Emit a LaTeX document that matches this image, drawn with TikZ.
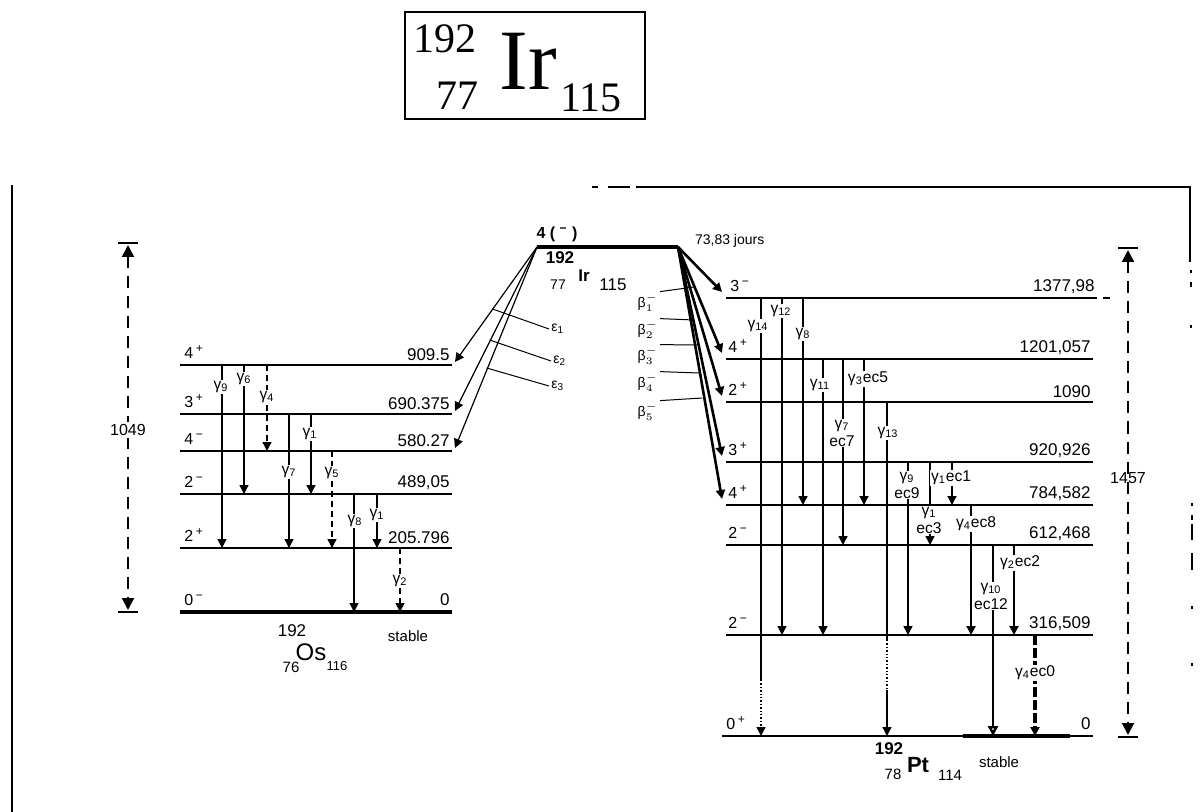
\documentclass[tikz,border=0pt]{standalone}
\usepackage{fontspec}
\setmainfont{Liberation Sans}
\newfontfamily\ttlfont{Liberation Serif}
\usetikzlibrary{arrows.meta, positioning, calc}

\newcommand{\gm}[1]{γ\textsubscript{#1}}
\newcommand{\sg}[1]{\textsuperscript{#1}}

\begin{document}
\begin{tikzpicture}[x=0.5pt, y=-0.5pt, >={Triangle[width=4.5pt,length=4.5pt]}]
  \tikzstyle{level} = [line width=0.9pt]
  \tikzstyle{heavy} = [line width=2pt]
  \tikzstyle{gam} = [->, line width=0.7pt]
  \tikzstyle{ecarrow} = [->, line width=0.6pt]
  \tikzstyle{betarrow} = [->, line width=1.3pt]
  \tikzstyle{lead} = [line width=0.5pt]
  \tikzstyle{energy} = [inner sep=1pt, font=\fontsize{8.5}{9}\selectfont]
  \tikzstyle{spin} = [inner sep=1pt, font=\fontsize{8}{9}\selectfont]
  \tikzstyle{glabel} = [fill=white, inner sep=0.4pt, font=\fontsize{7.8}{9}\selectfont, align=center]
  \tikzstyle{dimline} = [line width=1pt, dash pattern=on 6pt off 4pt]
  \tikzstyle{bar} = [line width=1.3pt]

  \useasboundingbox (0,0) rectangle (1204,812);

  % title box
  \node[draw, line width=0.8pt, minimum width=120pt, minimum height=53.5pt] (ttlbox) at (525,65.5) {};
  \node[anchor=base, inner sep=0pt, font=\ttlfont\fontsize{21}{21}\selectfont] (ttlA) at (445,53) {192};
  \node[anchor=base, inner sep=0pt, font=\ttlfont\fontsize{21}{21}\selectfont] (ttlZ) at (457,110) {77};
  \node[anchor=base, inner sep=0pt, font=\ttlfont\fontsize{43}{43}\selectfont] (ttlIr) at (528,90) {Ir};
  \node[anchor=base, inner sep=0pt, font=\ttlfont\fontsize{21}{21}\selectfont] (ttlN) at (591,112) {115};

  % frame
  \draw[line width=1pt] (12,185) -- (12,812);
  \draw[line width=1pt] (592,187) -- (598,187) (608,187) -- (630,187);
  \draw[line width=1pt] (636,187) -- (1190,187) -- (1190,262);
  \draw[line width=1pt] (1191,270) -- (1191,273) (1191,282) -- (1191,287) (1191,325) -- (1191,328)
    (1192,503) -- (1192,506) (1192,515) -- (1192,520) (1192,524) -- (1192,540)
    (1192,553) -- (1192,570) (1192,606) -- (1192,609) (1192,663) -- (1192,666);

  % parent 192Ir
  \coordinate (irw) at (537,247);
  \coordinate (ire) at (678,247);
  \draw[line width=2.2pt] (irw) -- (ire);
  \node[font=\fontsize{8}{9}\selectfont\bfseries] (irspin) at (557,234) {4 ( \sg{−} )};
  \node[font=\fontsize{7}{8}\selectfont, anchor=west] (irhalf) at (688,241) {73,83 jours};
  \node[font=\fontsize{8.5}{9}\selectfont\bfseries] (irA) at (560,258) {192};
  \node[font=\fontsize{7}{8}\selectfont] (irZ) at (558,285) {77};
  \node[font=\fontsize{8.5}{9}\selectfont\bfseries] (irEl) at (584,276) {Ir};
  \node[font=\fontsize{8.5}{9}\selectfont] (irN) at (613,285) {115};

  % 192Os levels
  \coordinate (os909w) at (180,365);  \coordinate (os909e) at (452,365);
  \coordinate (os690w) at (180,414);  \coordinate (os690e) at (452,414);
  \coordinate (os580w) at (180,451);  \coordinate (os580e) at (452,451);
  \coordinate (os489w) at (180,494);  \coordinate (os489e) at (452,494);
  \coordinate (os206w) at (180,548);  \coordinate (os206e) at (452,548);
  \coordinate (os0w) at (180,612);    \coordinate (os0e) at (452,612);
  \draw[level] (os909w) -- (os909e);
  \draw[level] (os690w) -- (os690e);
  \draw[level] (os580w) -- (os580e);
  \draw[level] (os489w) -- (os489e);
  \draw[level] (os206w) -- (os206e);
  \draw[heavy] (os0w) -- (os0e);
  \node[energy, above left=1pt and 0pt of os909e] (os909v) {909.5};
  \node[energy, above left=1pt and 0pt of os690e] (os690v) {690.375};
  \node[energy, above left=1pt and 0pt of os580e] (os580v) {580.27};
  \node[energy, above left=1pt and 0pt of os489e] (os489v) {489,05};
  \node[energy, above left=1pt and 0pt of os206e] (os206v) {205.796};
  \node[energy, above left=2pt and 0pt of os0e] (os0v) {0};
  \node[spin, above right=2pt and 1pt of os909w] (os909s) {4\,\sg{+}};
  \node[spin, above right=2pt and 1pt of os690w] (os690s) {3\,\sg{+}};
  \node[spin, above right=2pt and 1pt of os580w] (os580s) {4\,\sg{−}};
  \node[spin, above right=2pt and 1pt of os489w] (os489s) {2\,\sg{−}};
  \node[spin, above right=2pt and 1pt of os206w] (os206s) {2\,\sg{+}};
  \node[spin, above right=2pt and 1pt of os0w] (os0s) {0\,\sg{−}};

  % 192Os gammas
  \draw[gam] (222,0 |- os909w) -- (222,0 |- os206w);
  \draw[gam] (244,0 |- os909w) -- (244,0 |- os489w);
  \draw[gam, densely dashed] (267,0 |- os909w) -- (267,0 |- os580w);
  \draw[gam] (289,0 |- os690w) -- (289,0 |- os206w);
  \draw[gam] (311,0 |- os690w) -- (311,0 |- os489w);
  \draw[gam, densely dashed] (332,0 |- os580w) -- (332,0 |- os206w);
  \draw[gam] (354,0 |- os489w) -- (354,0 |- os0w);
  \draw[gam] (377,0 |- os489w) -- (377,0 |- os206w);
  \draw[gam, densely dashed] (400,0 |- os206w) -- (400,0 |- os0w);
  \node[glabel] (osg9) at (221,387) {\gm{9}};
  \node[glabel] (osg6) at (244,379) {\gm{6}};
  \node[glabel] (osg4) at (267,397) {\gm{4}};
  \node[glabel] (osg1a) at (310,434) {\gm{1}};
  \node[glabel] (osg7) at (289,472) {\gm{7}};
  \node[glabel] (osg5) at (332,473) {\gm{5}};
  \node[glabel] (osg8) at (355,521) {\gm{8}};
  \node[glabel] (osg1b) at (377,515) {\gm{1}};
  \node[glabel] (osg2) at (400,581) {\gm{2}};

  % 192Os name
  \node[font=\fontsize{8.5}{9}\selectfont] (osA) at (292,631) {192};
  \node[font=\fontsize{7.5}{8}\selectfont] (osZ) at (291,667) {76};
  \node[font=\fontsize{12}{12}\selectfont] (osEl) at (311,652) {Os};
  \node[font=\fontsize{6.5}{7}\selectfont] (osN) at (337,666) {116};
  \node[font=\fontsize{7.5}{8}\selectfont] (osst) at (408,636) {stable};

  % Q (EC) span
  \coordinate (qlt) at (128,245);
  \coordinate (qlb) at (128,610);
  \draw[dimline, {Triangle[width=6pt,length=6pt]}-{Triangle[width=6pt,length=6pt]}] (qlt) -- (qlb);
  \draw[bar] ($(qlt)+(-10,-2)$) -- ($(qlt)+(10,-2)$);
  \draw[bar] ($(qlb)+(-10,2)$) -- ($(qlb)+(10,2)$);
  \node[fill=white, inner sep=1pt, font=\fontsize{8}{9}\selectfont] (qlval) at (128,430) {1049};

  % EC branches
  \draw[ecarrow] (irw) -- ($(os909e)+(3,-3)$);
  \draw[ecarrow] (irw) -- ($(os690e)+(3,-3)$);
  \draw[ecarrow] (irw) -- ($(os580e)+(3,-3)$);
  \node[anchor=west, inner sep=1pt, font=\fontsize{7}{8}\selectfont] (eps1) at (549,329) {ε\textsubscript{1}};
  \node[anchor=west, inner sep=1pt, font=\fontsize{7}{8}\selectfont] (eps2) at (551,361) {ε\textsubscript{2}};
  \node[anchor=west, inner sep=1pt, font=\fontsize{7}{8}\selectfont] (eps3) at (549,386) {ε\textsubscript{3}};
  \draw[lead] ($(irw)!0.525!(os909e)$) -- (eps1.west);
  \draw[lead] ($(irw)!0.557!(os690e)$) -- (eps2.west);
  \draw[lead] ($(irw)!0.593!(os580e)$) -- (eps3.west);

  % 192Pt levels
  \coordinate (pt1378w) at (726,298); \coordinate (pt1378e) at (1097,298);
  \coordinate (pt1201w) at (726,359); \coordinate (pt1201e) at (1093,359);
  \coordinate (pt1090w) at (726,402); \coordinate (pt1090e) at (1093,402);
  \coordinate (pt921w) at (726,462);  \coordinate (pt921e) at (1093,462);
  \coordinate (pt785w) at (726,505);  \coordinate (pt785e) at (1093,505);
  \coordinate (pt612w) at (726,545);  \coordinate (pt612e) at (1093,545);
  \coordinate (pt317w) at (726,635);  \coordinate (pt317e) at (1093,635);
  \coordinate (pt0w) at (722,736);    \coordinate (pt0e) at (1093,736);
  \draw[level] (pt1378w) -- (pt1378e);
  \draw[level] (1103,298) -- (1110,298);
  \draw[level] (pt1201w) -- (pt1201e);
  \draw[level] (pt1090w) -- (pt1090e);
  \draw[level] (pt921w) -- (pt921e);
  \draw[level] (pt785w) -- (pt785e);
  \draw[level] (pt612w) -- (pt612e);
  \draw[level] (pt317w) -- (pt317e);
  \draw[level] (pt0w) -- (pt0e);
  \draw[heavy] (963,0 |- pt0w) -- (1070,0 |- pt0w);
  \node[energy, above left=1pt and 0pt of pt1378e] (pt1378v) {1377,98};
  \node[energy, above left=1pt and 0pt of pt1201e] (pt1201v) {1201,057};
  \node[energy, above left=1pt and 0pt of pt1090e] (pt1090v) {1090};
  \node[energy, above left=1pt and 0pt of pt921e] (pt921v) {920,926};
  \node[energy, above left=1pt and 0pt of pt785e] (pt785v) {784,582};
  \node[energy, above left=1pt and 0pt of pt612e] (pt612v) {612,468};
  \node[energy, above left=1pt and 0pt of pt317e] (pt317v) {316,509};
  \node[energy, above left=2pt and 0pt of pt0e] (pt0v) {0};
  \node[spin, above right=2pt and 1pt of pt1378w] (pt1378s) {3\,\sg{−}};
  \node[spin, above right=2pt and 0pt of pt1201w] (pt1201s) {4\,\sg{+}};
  \node[spin, above right=2pt and 0pt of pt1090w] (pt1090s) {2\,\sg{+}};
  \node[spin, above right=2pt and 0pt of pt921w] (pt921s) {3\,\sg{+}};
  \node[spin, above right=2pt and 0pt of pt785w] (pt785s) {4\,\sg{+}};
  \node[spin, above right=2pt and 0pt of pt612w] (pt612s) {2\,\sg{−}};
  \node[spin, above right=2pt and 0pt of pt317w] (pt317s) {2\,\sg{−}};
  \node[spin, above right=2pt and 1pt of pt0w] (pt0s) {0\,\sg{+}};

  % beta branches
  \draw[betarrow] (ire) -- ($(pt1378w)+(-4,-6)$);
  \draw[betarrow] (ire) -- ($(pt1201w)+(-4,-6)$);
  \draw[betarrow] (ire) -- ($(pt1090w)+(-4,-6)$);
  \draw[betarrow] (ire) -- ($(pt921w)+(-4,-6)$);
  \draw[betarrow] (ire) -- ($(pt785w)+(-4,-6)$);
  \coordinate (b1end) at (694,287);
  \coordinate (b2end) at (694,320);
  \coordinate (b3end) at (697,345);
  \coordinate (b4end) at (699,373);
  \coordinate (b5end) at (702,398);
  \node[anchor=east, inner sep=1pt, font=\fontsize{7}{8}\selectfont] (beta1) at (660,303) {β$^{-}_{1}$};
  \node[anchor=east, inner sep=1pt, font=\fontsize{7}{8}\selectfont] (beta2) at (660,330) {β$^{-}_{2}$};
  \node[anchor=east, inner sep=1pt, font=\fontsize{7}{8}\selectfont] (beta3) at (660,356) {β$^{-}_{3}$};
  \node[anchor=east, inner sep=1pt, font=\fontsize{7}{8}\selectfont] (beta4) at (660,383) {β$^{-}_{4}$};
  \node[anchor=east, inner sep=1pt, font=\fontsize{7}{8}\selectfont] (beta5) at (660,412) {β$^{-}_{5}$};
  \draw[lead] (beta1.north east) -- (b1end);
  \draw[lead] (beta2.north east) -- (b2end);
  \draw[lead] (beta3.north east) -- (b3end);
  \draw[lead] (beta4.north east) -- (b4end);
  \draw[lead] (beta5.north east) -- (b5end);

  % 192Pt gammas
  \coordinate (g14m) at (761,680);
  \draw[line width=0.7pt] (761,0 |- pt1378w) -- (g14m);
  \draw[gam, densely dotted] (g14m) -- (761,0 |- pt0w);
  \draw[gam] (782,0 |- pt1378w) -- (782,0 |- pt317w);
  \draw[gam] (803,0 |- pt1378w) -- (803,0 |- pt785w);
  \draw[gam] (823,0 |- pt1201w) -- (823,0 |- pt317w);
  \draw[gam] (843,0 |- pt1201w) -- (843,0 |- pt612w);
  \draw[gam] (864,0 |- pt1201w) -- (864,0 |- pt785w);
  \coordinate (g13a) at (887,640);
  \coordinate (g13b) at (887,690);
  \draw[line width=0.7pt] (887,0 |- pt1090w) -- (g13a);
  \draw[line width=0.7pt, densely dotted] (g13a) -- (g13b);
  \draw[gam] (g13b) -- (887,0 |- pt0w);
  \draw[gam] (908,0 |- pt921w) -- (908,0 |- pt317w);
  \draw[gam] (930,0 |- pt921w) -- (930,0 |- pt612w);
  \draw[gam] (952,0 |- pt921w) -- (952,0 |- pt785w);
  \draw[gam, line width=1.2pt] (971,0 |- pt785w) -- (971,0 |- pt317w);
  \draw[-{Triangle[open,width=5pt,length=5pt]}, line width=1.2pt] (993,0 |- pt612w) -- (993,0 |- pt0w);
  \draw[gam, line width=1pt] (1014,0 |- pt612w) -- (1014,0 |- pt317w);
  \draw[gam, line width=1.6pt, dash pattern=on 5pt off 1.5pt] (1035,0 |- pt317w) -- (1035,0 |- pt0w);
  \node[glabel] (ptg14) at (758,326) {\gm{14}};
  \node[glabel] (ptg12) at (781,311) {\gm{12}};
  \node[glabel] (ptg8) at (803,334) {\gm{8}};
  \node[glabel] (ptg11) at (820,385) {\gm{11}};
  \node[glabel] (ptg7) at (842,433) {\gm{7}\\ec7};
  \node[glabel] (ptg3) at (868,379) {\gm{3}ec5};
  \node[glabel] (ptg13) at (888,433) {\gm{13}};
  \node[glabel] (ptg9) at (907,485) {\gm{9}\\ec9};
  \node[glabel] (ptg1a) at (929,520) {\gm{1}\\ec3};
  \node[glabel] (ptg1b) at (951,478) {\gm{1}ec1};
  \node[glabel] (ptg4a) at (976,524) {\gm{4}ec8};
  \node[glabel] (ptg10) at (991,596) {\gm{10}\\ec12};
  \node[glabel] (ptg2) at (1020,563) {\gm{2}ec2};
  \node[glabel] (ptg4b) at (1035,673) {\gm{4}ec0};

  % 192Pt name
  \node[font=\fontsize{8.5}{9}\selectfont\bfseries] (ptA) at (889,749) {192};
  \node[font=\fontsize{7.5}{8}\selectfont] (ptZ) at (893,774) {78};
  \node[font=\fontsize{11}{11}\selectfont\bfseries] (ptEl) at (918,765) {Pt};
  \node[font=\fontsize{7.5}{8}\selectfont] (ptN) at (950,775) {114};
  \node[font=\fontsize{7.5}{8}\selectfont] (ptst) at (999,762) {stable};

  % Q (beta) span
  \coordinate (qrt) at (1128,250);
  \coordinate (qrb) at (1128,735);
  \draw[dimline, {Triangle[width=6pt,length=6pt]}-{Triangle[width=6pt,length=6pt]}] (qrt) -- (qrb);
  \draw[bar] ($(qrt)+(-10,-2)$) -- ($(qrt)+(10,-2)$);
  \draw[bar] ($(qrb)+(-10,2)$) -- ($(qrb)+(10,2)$);
  \node[inner sep=1pt, font=\fontsize{8}{9}\selectfont] (qrval) at (1128,478) {1457};
\end{tikzpicture}
\end{document}
